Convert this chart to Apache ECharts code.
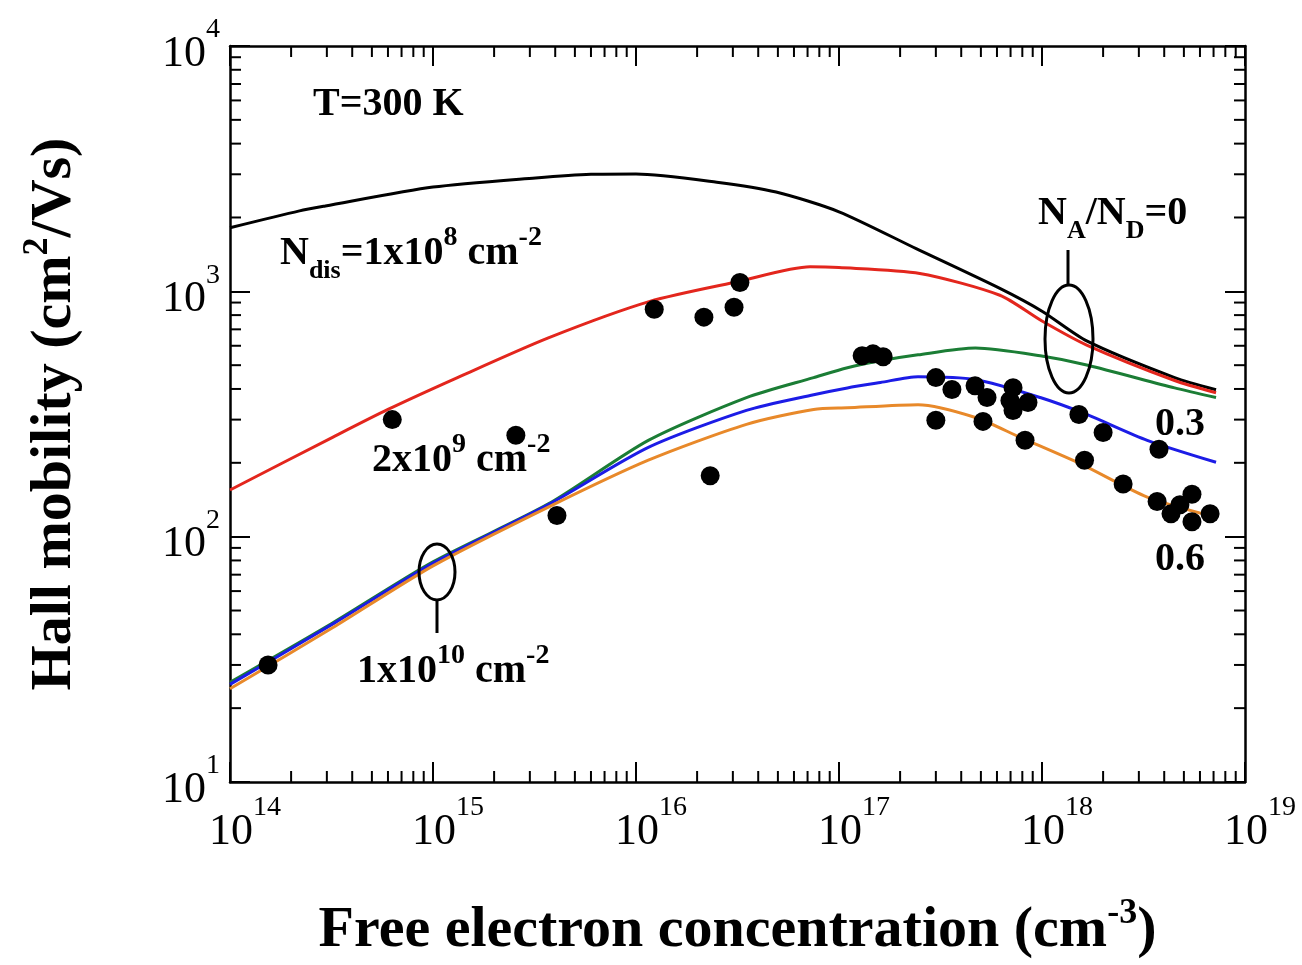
<!DOCTYPE html>
<html lang="en">
<head>
    <meta charset="UTF-8">
    <title>Hall mobility vs free electron concentration</title>
    <script src="https://cdn.jsdelivr.net/npm/echarts@6/dist/echarts.min.js"></script>
    <style>
        html, body { margin: 0; padding: 0; background: #fff; }
    </style>
</head>
<body>
    <div id="chart" style="width:1302px;height:965px;"></div>
    <script>
        // axis decades (exponents of 10)
        var xDecades = [14, 15, 16, 17, 18, 19];
        var yDecades = [1, 2, 3, 4];

        // Ndis = 1e8 cm-2, NA/ND = 0
        var curveNdis1e8 = [[1e14, 1816], [2.2e14, 2128], [2.95e14, 2228], [1e15, 2660], [3.2e15, 2900], [6e15, 3000],
            [1e16, 3010], [2.5e16, 2786], [4.9e16, 2540], [1e17, 2110], [2.4e17, 1493], [6.2e17, 1028],
            [1e18, 830], [1.66e18, 628], [4.5e18, 445], [7.2e18, 397]];
        // Ndis = 2e9 cm-2, NA/ND = 0
        var curveNdis2e9 = [[1e14, 155], [3.2e14, 254], [6e14, 330], [1.32e15, 445], [3.7e15, 646], [1.17e16, 910],
            [3.2e16, 1097], [7.2e16, 1259], [1e17, 1250], [2.5e17, 1183], [6.2e17, 964], [1e18, 757],
            [1.66e18, 604], [4.5e18, 433], [7.2e18, 386]];
        // Ndis = 1e10 cm-2, NA/ND = 0 / 0.3 / 0.6
        var curveNA0 = [[1e14, 25.5], [3.2e14, 44.5], [1e15, 79], [3.7e15, 136], [1.15e16, 247], [3.5e16, 369],
            [7.5e16, 445], [1.1e17, 488], [1.6e17, 521], [2.45e17, 551], [4.7e17, 587], [9.8e17, 546],
            [1.66e18, 501], [4.5e18, 404], [7.2e18, 369]];
        var curveNA03 = [[1e14, 25], [3.2e14, 44], [1e15, 78], [3.7e15, 135], [1.15e16, 231], [3.5e16, 327],
            [7.5e16, 379], [1.1e17, 404], [1.6e17, 425], [2.45e17, 449], [4.7e17, 437], [9.8e17, 369],
            [1.66e18, 315], [3.3e18, 247], [7.2e18, 201]];
        var curveNA06 = [[1e14, 24], [3.2e14, 42.5], [1e15, 76], [3.7e15, 132], [1.15e16, 205], [3.5e16, 287],
            [7.5e16, 330], [1.1e17, 335], [2.45e17, 345], [4.7e17, 306], [7.8e17, 254], [1.55e18, 198],
            [3.3e18, 145], [7.2e18, 120]];
        // measured points
        var measured = [[1.54e14, 30], [6.3e14, 300], [2.56e15, 259], [4.08e15, 122], [1.23e16, 845], [2.16e16, 785],
            [2.32e16, 177], [3.04e16, 861], [3.25e16, 1087], [1.3e17, 546], [1.47e17, 556], [1.65e17, 541],
            [3.0e17, 445], [3.6e17, 398], [3.0e17, 298], [4.68e17, 412], [5.36e17, 369], [5.12e17, 295],
            [7.2e17, 405], [6.95e17, 359], [7.2e17, 327], [8.53e17, 352], [8.25e17, 247], [1.52e18, 315],
            [2.0e18, 266], [1.62e18, 205], [2.51e18, 164], [3.77e18, 227], [3.69e18, 139], [4.32e18, 124],
            [4.78e18, 135], [5.48e18, 149], [5.48e18, 115], [6.73e18, 124]];

        var FONT = 'Liberation Serif';
        var xMin = Math.pow(10, xDecades[0]), xMax = Math.pow(10, xDecades[xDecades.length - 1]);
        var yMin = Math.pow(10, yDecades[0]), yMax = Math.pow(10, yDecades[yDecades.length - 1]);

        // minor ticks at 2..9 x 10^n
        var xMinor = [], yMinor = [];
        xDecades.slice(0, -1).forEach(function (e) {
            for (var m = 2; m <= 9; m++) xMinor.push([m * Math.pow(10, e), yMin]);
        });
        yDecades.slice(0, -1).forEach(function (e) {
            for (var m = 2; m <= 9; m++) yMinor.push([xMin, m * Math.pow(10, e)]);
        });

        var tickRich = {
            b: { fontFamily: FONT, fontSize: 44, color: '#000', lineHeight: 60, verticalAlign: 'bottom' },
            s: { fontFamily: FONT, fontSize: 28, color: '#000', lineHeight: 30, verticalAlign: 'top' },
            p: { width: 30, lineHeight: 60 }
        };
        // x labels: the "10" sits centred on the tick, exponent hangs to the right
        function xLabel(v) {
            return '{p|}{b|10}{s|' + Math.round(Math.log10(v)) + '}';
        }
        function yLabel(v) {
            return '{b|10}{s|' + Math.round(Math.log10(v)) + '}';
        }
        var titleRich = {
            t: { fontFamily: FONT, fontSize: 58, fontWeight: 'bold', color: '#000', lineHeight: 70 },
            s: { fontFamily: FONT, fontSize: 36, fontWeight: 'bold', color: '#000', lineHeight: 30, verticalAlign: 'top' }
        };
        var annRich = {
            sup: { fontFamily: FONT, fontSize: 28, fontWeight: 'bold', color: '#000', lineHeight: 22, verticalAlign: 'top' },
            sub: { fontFamily: FONT, fontSize: 26, fontWeight: 'bold', color: '#000', lineHeight: 8, verticalAlign: 'bottom' }
        };

        var axisLine = { show: true, lineStyle: { color: '#000', width: 2.5 } };
        var majorTick = { show: true, inside: true, length: 20, lineStyle: { color: '#000', width: 2 } };

        var chart = echarts.init(document.getElementById('chart'));

        function minorRender(isX) {
            return function (params, api) {
                var a, b;
                if (isX) {
                    a = api.coord([api.value(0), yMin]);
                    b = api.coord([api.value(0), yMax]);
                    return { type: 'group', children: [
                        { type: 'line', shape: { x1: a[0], y1: a[1], x2: a[0], y2: a[1] - 11 }, style: { stroke: '#000', lineWidth: 2 } },
                        { type: 'line', shape: { x1: b[0], y1: b[1], x2: b[0], y2: b[1] + 11 }, style: { stroke: '#000', lineWidth: 2 } }
                    ] };
                }
                a = api.coord([xMin, api.value(1)]);
                b = api.coord([xMax, api.value(1)]);
                return { type: 'group', children: [
                    { type: 'line', shape: { x1: a[0], y1: a[1], x2: a[0] + 11, y2: a[1] }, style: { stroke: '#000', lineWidth: 2 } },
                    { type: 'line', shape: { x1: b[0], y1: b[1], x2: b[0] - 11, y2: b[1] }, style: { stroke: '#000', lineWidth: 2 } }
                ] };
            };
        }

        function curve(data, color) {
            return {
                type: 'line', data: data, showSymbol: false, smooth: 0.25,
                lineStyle: { color: color, width: 3 }, z: 3
            };
        }

        function annText(x, y, text) {
            return {
                type: 'text', x: x, y: y, z: 10,
                style: {
                    text: text, fontFamily: FONT, fontSize: 40, fontWeight: 'bold', fill: '#000',
                    lineHeight: 60, align: 'left', verticalAlign: 'middle', rich: annRich
                }
            };
        }

        var option = {
            animation: false,
            backgroundColor: '#fff',
            grid: { left: 230, right: 57, top: 46, bottom: 178 },
            xAxis: [{
                type: 'log', logBase: 10, min: xMin, max: xMax, position: 'bottom',
                axisLine: axisLine, axisTick: majorTick, splitLine: { show: false },
                axisLabel: { margin: 12, formatter: xLabel, rich: tickRich },
                name: '{t|Free electron concentration (cm}{s|-3}{t|)}',
                nameLocation: 'middle', nameGap: 114,
                nameTextStyle: { rich: titleRich }
            }, {
                type: 'log', logBase: 10, min: xMin, max: xMax, position: 'top',
                axisLine: axisLine, axisTick: majorTick, axisLabel: { show: false }, splitLine: { show: false }
            }],
            yAxis: [{
                type: 'log', logBase: 10, min: yMin, max: yMax, position: 'left',
                axisLine: axisLine, axisTick: majorTick, splitLine: { show: false },
                axisLabel: { margin: 10, formatter: yLabel, rich: tickRich },
                name: '{t|Hall mobility (cm}{s|2}{t|/Vs)}',
                nameLocation: 'middle', nameGap: 140, nameRotate: 90,
                nameTextStyle: { rich: titleRich }
            }, {
                type: 'log', logBase: 10, min: yMin, max: yMax, position: 'right',
                axisLine: axisLine, axisTick: majorTick, axisLabel: { show: false }, splitLine: { show: false }
            }],
            series: [
                { type: 'custom', data: xMinor, renderItem: minorRender(true), silent: true, z: 1 },
                { type: 'custom', data: yMinor, renderItem: minorRender(false), silent: true, z: 1 },
                curve(curveNdis1e8, '#000000'),
                curve(curveNdis2e9, '#e3261d'),
                curve(curveNA0, '#1b7d35'),
                curve(curveNA03, '#1c1ce6'),
                curve(curveNA06, '#e8892a'),
                {
                    type: 'scatter', data: measured, symbol: 'circle', symbolSize: 19,
                    itemStyle: { color: '#000', opacity: 1 }, z: 5
                }
            ],
            graphic: [
                annText(313, 105, 'T=300 K'),
                annText(280, 254, 'N{sub|dis}=1x10{sup|8} cm{sup|-2}'),
                annText(372, 461, '2x10{sup|9} cm{sup|-2}'),
                annText(357, 672, '1x10{sup|10} cm{sup|-2}'),
                annText(1038, 214, 'N{sub|A}/N{sub|D}=0'),
                annText(1155, 425, '0.3'),
                annText(1155, 560, '0.6'),
                { type: 'ellipse', z: 10, shape: { cx: 1069, cy: 339, rx: 24, ry: 54 }, style: { fill: 'none', stroke: '#000', lineWidth: 3 } },
                { type: 'line', z: 10, shape: { x1: 1068, y1: 250, x2: 1068, y2: 285 }, style: { stroke: '#000', lineWidth: 3 } },
                { type: 'ellipse', z: 10, shape: { cx: 437, cy: 572, rx: 18, ry: 28 }, style: { fill: 'none', stroke: '#000', lineWidth: 3 } },
                { type: 'line', z: 10, shape: { x1: 437, y1: 600, x2: 437, y2: 633 }, style: { stroke: '#000', lineWidth: 3 } }
            ]
        };

        chart.setOption(option);
    </script>
</body>
</html>
